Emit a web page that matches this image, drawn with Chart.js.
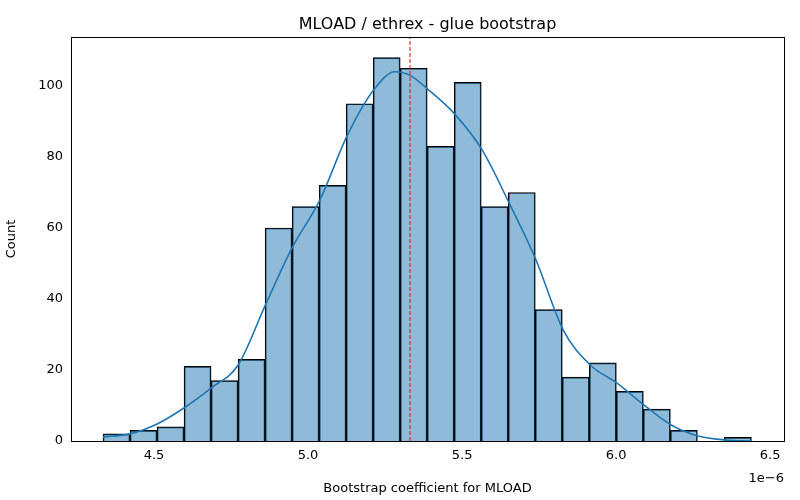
<!DOCTYPE html>
<html>
<head>
<meta charset="utf-8">
<script src="https://cdn.jsdelivr.net/npm/chart.js@4.4.0/dist/chart.umd.min.js"></script>
<style>
  html, body { margin: 0; padding: 0; background: #fff; }
  #wrap { width: 800px; height: 500px; }
</style>
</head>
<body>
<div id="wrap"><canvas id="myChart" width="800" height="500"></canvas></div>
<script>
// values in units of 1e-6
const binStart = 4.3344;
const binWidth = 0.0877;
const counts = [2, 3, 4, 21, 17, 23, 60, 66, 72, 95, 108, 105, 83, 101, 66, 70, 37, 18, 22, 14, 9, 3, 0, 1];
const kdeX = [4.334, 4.422, 4.510, 4.597, 4.685, 4.773, 4.860, 4.948, 5.039, 5.127, 5.214, 5.282, 5.331,
              5.390, 5.477, 5.565, 5.653, 5.740, 5.828, 5.916, 6.003, 6.091, 6.179, 6.266, 6.354, 6.442];
const kdeY = [1.1, 2, 4.8, 9.3, 14.9, 21.4, 38, 54.4, 68, 86, 99, 104, 103,
              99, 92, 82, 67, 51, 31.3, 21.4, 16.3, 10.1, 4.5, 1.4, 0.3, 0];
const meanValue = 5.331;
const xTicks = [4.5, 5.0, 5.5, 6.0, 6.5];
const yTicks = [0, 20, 40, 60, 80, 100];

const barData = counts.map((c, i) => ({ x: binStart + binWidth * (i + 0.5), y: c }));
const kdeData = kdeX.map((x, i) => ({ x: x, y: kdeY[i] }));

const font = { family: 'DejaVu Sans', size: 13 };

const frame = {
    id: 'frame',
    afterDraw(chart) {
        const ctx = chart.ctx;
        const a = chart.chartArea;
        ctx.save();
        ctx.strokeStyle = '#000';
        ctx.lineWidth = 1;
        ctx.strokeRect(a.left + 0.5, a.top + 0.5, a.right - a.left, a.bottom - a.top);
        ctx.font = '16px DejaVu Sans';
        ctx.fillStyle = '#000';
        ctx.textAlign = 'center';
        ctx.textBaseline = 'alphabetic';
        ctx.fillText('MLOAD / ethrex - glue bootstrap', (a.left + a.right) / 2, 29);
        ctx.font = '13px DejaVu Sans';
        ctx.textAlign = 'right';
        ctx.fillText('1e\u22126', a.right, 482);
        ctx.restore();
    }
};

new Chart(document.getElementById('myChart').getContext('2d'), {
    data: {
        datasets: [
            {
                type: 'bar',
                data: barData,
                backgroundColor: 'rgba(31,119,180,0.5)',
                borderColor: '#000',
                borderWidth: 1,
                barPercentage: 1,
                categoryPercentage: 1,
                order: 3
            },
            {
                type: 'line',
                data: kdeData,
                borderColor: '#1f77b4',
                borderWidth: 1.6,
                pointRadius: 0,
                tension: 0.4,
                cubicInterpolationMode: 'monotone',
                order: 2
            },
            {
                type: 'line',
                data: [{ x: meanValue, y: 0 }, { x: meanValue, y: 114 }],
                borderColor: 'red',
                borderWidth: 1,
                borderDash: [4, 2],
                pointRadius: 0,
                order: 1
            }
        ]
    },
    options: {
        responsive: false,
        animation: false,
        layout: { padding: { top: 37, right: 16, left: 0, bottom: 0 } },
        plugins: { legend: { display: false }, tooltip: { enabled: false } },
        scales: {
            x: {
                type: 'linear',
                min: 4.2305,
                max: 6.545,
                offset: false,
                afterBuildTicks(axis) { axis.ticks = xTicks.map(v => ({ value: v })); },
                afterFit(axis) { axis.height = 59; },
                grid: { display: false, drawTicks: true, tickLength: 5, tickColor: '#000' },
                border: { color: '#000' },
                ticks: { color: '#000', font: font, padding: 2, callback: v => v.toFixed(1) },
                title: { display: true, text: 'Bootstrap coefficient for MLOAD', color: '#000', font: font, padding: { top: 2 } }
            },
            y: {
                min: 0,
                max: 113.8,
                afterBuildTicks(axis) { axis.ticks = yTicks.map(v => ({ value: v })); },
                afterFit(axis) { axis.width = 71; },
                grid: { display: false, drawTicks: true, tickLength: 5, tickColor: '#000' },
                border: { color: '#000' },
                ticks: { color: '#000', font: font, padding: 3 },
                title: { display: true, text: 'Count', color: '#000', font: font, padding: { bottom: 8 } }
            }
        }
    },
    plugins: [frame]
});
</script>
</body>
</html>
